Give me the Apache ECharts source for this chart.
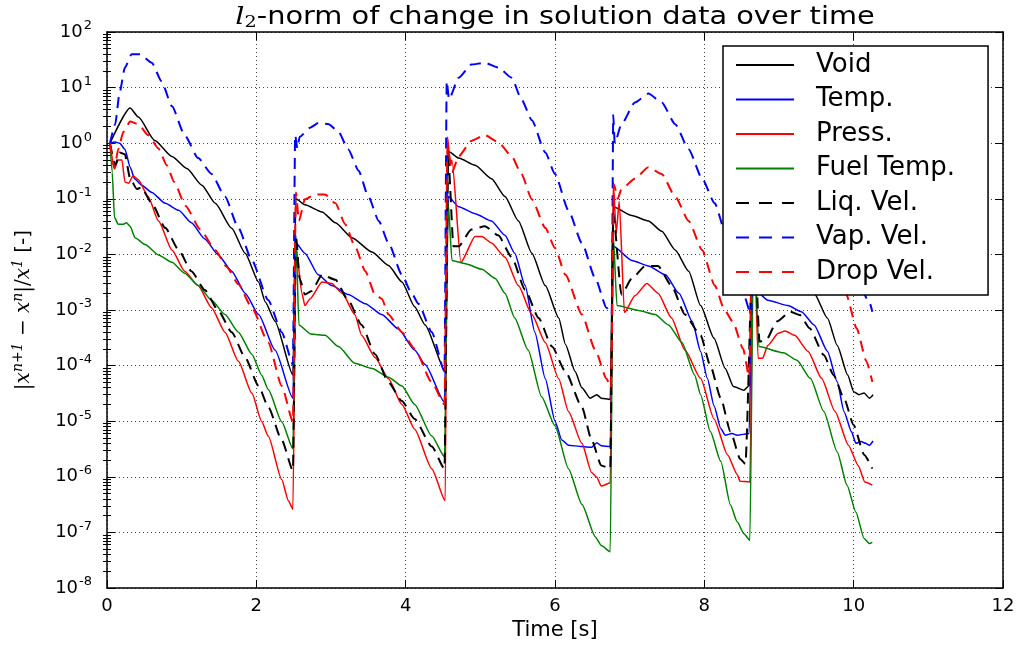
<!DOCTYPE html>
<html>
<head>
<meta charset="utf-8">
<script src="https://cdn.jsdelivr.net/npm/echarts@6/dist/echarts.min.js"></script>
<style>
  html, body { margin: 0; padding: 0; background: #fff; }
  #chart { width: 1019px; height: 647px; }
</style>
</head>
<body>
<div id="chart"></div>
<script>
// Axis ticks
const xTicks = [0, 2, 4, 6, 8, 10, 12];
const yDecades = [-8, -7, -6, -5, -4, -3, -2, -1, 0, 1, 2];

const seriesNames = ['Void', 'Temp.', 'Press.', 'Fuel Temp.', 'Liq. Vel.', 'Vap. Vel.', 'Drop Vel.'];

// [time (s), relative change] samples for each unknown
const voidData = [
  [0.04, 1.0], [0.31, 4.3], [0.42, 2.95], [0.64, 1.12], [0.87, 0.575], [1.07, 0.35], [1.27, 0.176], [1.45, 0.083],
  [1.67, 0.0295], [1.85, 0.0105], [2.03, 3.2e-3], [2.12, 1.4e-3], [2.25, 6.3e-4], [2.49, 6.8e-5],
  [2.53, 0.1], [2.65, 0.078], [2.88, 0.058], [3.06, 0.037], [3.28, 0.020], [3.55, 0.011], [3.77, 6.3e-3],
  [3.95, 3.2e-3], [4.12, 1.15e-3], [4.26, 5.4e-4], [4.53, 7.9e-5],
  [4.57, 0.72], [4.71, 0.54], [4.93, 0.40], [5.15, 0.23], [5.33, 0.11], [5.51, 0.040], [5.69, 0.0105],
  [5.87, 2.75e-3], [6.05, 7.2e-4], [6.14, 2.4e-4], [6.27, 7.8e-5], [6.36, 4.0e-5], [6.47, 2.6e-5],
  [6.56, 3.0e-5], [6.62, 2.6e-5], [6.74, 2.45e-5],
  [6.78, 0.072], [7.03, 0.050], [7.25, 0.040], [7.43, 0.026], [7.61, 0.012], [7.79, 5.0e-3], [7.95, 1.2e-3],
  [8.13, 3.1e-4], [8.28, 8.9e-5], [8.39, 4.2e-5], [8.53, 3.6e-5], [8.61, 4.5e-5],
  [8.66, 0.035], [8.9, 0.02], [9.1, 0.011], [9.3, 5.0e-3], [9.47, 2.0e-3], [9.65, 7.1e-4], [9.78, 2.3e-4],
  [9.92, 6.8e-5], [10.0, 3.4e-5], [10.07, 3.0e-5], [10.14, 3.2e-5], [10.21, 2.6e-5], [10.26, 3.0e-5]
];

const tempData = [
  [0.04, 1.0], [0.11, 1.05], [0.17, 1.0], [0.24, 0.78], [0.31, 0.37], [0.37, 0.23], [0.46, 0.178], [0.6, 0.13],
  [0.78, 0.083], [0.96, 0.062], [1.13, 0.037], [1.31, 0.019], [1.49, 9.8e-3], [1.67, 5.0e-3], [1.85, 2.0e-3],
  [2.03, 8.3e-4], [2.25, 1.9e-4], [2.49, 2.6e-5],
  [2.53, 0.016], [2.65, 0.0105], [2.83, 4.3e-3], [3.01, 2.75e-3], [3.23, 1.9e-3], [3.46, 1.3e-3], [3.68, 8.3e-4],
  [3.9, 4.6e-4], [4.12, 1.9e-4], [4.26, 1.05e-4], [4.52, 2.2e-5],
  [4.57, 0.11], [4.71, 0.072], [4.93, 0.054], [5.15, 0.040], [5.33, 0.022], [5.46, 0.0105], [5.6, 2.75e-3],
  [5.73, 4.0e-4], [5.87, 5.8e-5], [6.0, 1.0e-5], [6.09, 4.6e-6], [6.18, 3.7e-6], [6.36, 3.5e-6], [6.49, 3.4e-6],
  [6.56, 4.1e-6], [6.62, 3.6e-6], [6.74, 3.5e-6],
  [6.78, 0.014], [7.03, 7.8e-3], [7.25, 6.2e-3], [7.48, 4.3e-3], [7.66, 2.0e-3], [7.84, 6.2e-4], [7.95, 1.8e-4],
  [8.04, 5.9e-5], [8.13, 1.9e-5], [8.22, 7.4e-6], [8.28, 5.6e-6], [8.37, 6.0e-6], [8.44, 5.6e-6], [8.6, 6.0e-6],
  [8.65, 0.012], [8.71, 2.1e-3], [8.85, 1.5e-3], [9.12, 1.2e-3], [9.3, 9.3e-4], [9.47, 5.4e-4], [9.65, 1.8e-4],
  [9.78, 5.1e-5], [9.87, 1.5e-5], [9.97, 6.5e-6], [10.03, 4.0e-6], [10.1, 4.3e-6], [10.16, 4.0e-6],
  [10.21, 3.7e-6], [10.26, 4.4e-6]
];

const pressData = [
  [0.04, 1.0], [0.1, 0.35], [0.15, 0.5], [0.2, 0.5], [0.24, 0.2], [0.29, 0.19], [0.35, 0.26], [0.42, 0.22],
  [0.55, 0.11], [0.69, 0.040], [0.87, 0.012], [1.04, 5.0e-3], [1.22, 2.75e-3], [1.4, 1.1e-3], [1.58, 4.0e-4],
  [1.76, 1.2e-4], [1.94, 3.2e-5], [2.07, 1.0e-5], [2.16, 5.4e-6], [2.34, 8.9e-7], [2.43, 3.7e-7], [2.49, 2.6e-7],
  [2.53, 0.014], [2.61, 2.0e-3], [2.65, 1.2e-3], [2.72, 1.6e-3], [2.88, 3.2e-3], [3.01, 3.0e-3], [3.15, 2.0e-3],
  [3.32, 8.3e-4], [3.41, 3.5e-4], [3.59, 1.4e-4], [3.77, 5.8e-5], [3.95, 2.0e-5], [4.12, 7.2e-6], [4.35, 1.4e-6],
  [4.53, 3.7e-7],
  [4.56, 1.3], [4.6, 0.4], [4.62, 0.5], [4.74, 7.2e-3], [4.93, 0.021], [5.02, 0.021], [5.15, 0.016],
  [5.33, 8.9e-3], [5.51, 2.75e-3], [5.69, 8.3e-4], [5.87, 2.6e-4], [6.05, 5.8e-5], [6.18, 1.5e-5], [6.36, 4.0e-6],
  [6.49, 1.2e-6], [6.56, 9.8e-7], [6.62, 6.8e-7], [6.74, 7.8e-7],
  [6.78, 0.2], [6.82, 0.024], [6.86, 0.09], [6.93, 9.0e-4], [7.07, 1.8e-3], [7.23, 3.0e-3], [7.38, 2.0e-3],
  [7.56, 7.2e-4], [7.74, 1.9e-4], [7.95, 5.9e-5], [8.13, 1.1e-5], [8.31, 2.5e-6], [8.44, 1.1e-6], [8.48, 8.3e-7],
  [8.61, 8.1e-7],
  [8.66, 0.05], [8.72, 1.35e-4], [8.78, 1.35e-4], [8.85, 2.3e-4], [8.99, 3.8e-4], [9.08, 4.2e-4], [9.21, 3.5e-4],
  [9.39, 1.8e-4], [9.57, 5.9e-5], [9.75, 1.5e-5], [9.93, 3.7e-6], [10.06, 1.6e-6], [10.15, 8.1e-7], [10.25, 7.1e-7]
];

const fuelData = [
  [0.04, 1.0], [0.07, 0.3], [0.1, 0.046], [0.15, 0.035], [0.22, 0.035], [0.26, 0.037], [0.31, 0.032],
  [0.375, 0.020], [0.51, 0.015], [0.69, 9.8e-3], [0.87, 7.2e-3], [1.04, 4.6e-3], [1.22, 2.75e-3], [1.4, 1.5e-3],
  [1.58, 8.3e-4], [1.76, 4.0e-4], [1.94, 1.6e-4], [2.07, 6.8e-5], [2.16, 3.7e-5], [2.34, 9.8e-6], [2.49, 3.2e-6],
  [2.53, 0.022], [2.57, 5.4e-4], [2.73, 3.7e-4], [2.92, 3.5e-4], [3.1, 2.2e-4], [3.32, 1.1e-4], [3.55, 8.9e-5],
  [3.77, 6.2e-5], [3.95, 4.3e-5], [4.12, 2.0e-5], [4.35, 5.4e-6], [4.52, 2.3e-6],
  [4.57, 0.083], [4.62, 7.8e-3], [4.8, 6.8e-3], [5.02, 5.4e-3], [5.2, 3.7e-3], [5.33, 2.0e-3], [5.46, 7.2e-4],
  [5.64, 1.9e-4], [5.82, 2.75e-5], [6.0, 8.3e-6], [6.18, 1.4e-6], [6.36, 3.2e-7], [6.54, 8.3e-8], [6.62, 5.8e-8],
  [6.74, 4.5e-8],
  [6.78, 0.022], [6.83, 1.2e-3], [7.12, 9.8e-4], [7.34, 8.3e-4], [7.52, 5.4e-4], [7.7, 2.6e-4], [7.87, 6.8e-5],
  [7.95, 3.0e-5], [8.08, 6.5e-6], [8.22, 1.9e-6], [8.35, 3.1e-7], [8.44, 1.55e-7], [8.53, 9.5e-8], [8.61, 7.2e-8],
  [8.66, 0.03], [8.73, 2.2e-4], [9.06, 1.7e-4], [9.24, 1.25e-4], [9.42, 5.9e-5], [9.6, 1.5e-5], [9.78, 2.8e-6],
  [9.91, 7.1e-7], [10.03, 2.3e-7], [10.14, 7.8e-8], [10.21, 6.3e-8], [10.25, 6.6e-8]
];

const liqData = [
  [0.04, 1.0], [0.11, 0.4], [0.17, 0.68], [0.24, 0.63], [0.31, 0.23], [0.4, 0.15], [0.46, 0.16], [0.6, 0.083],
  [0.78, 0.030], [0.96, 0.012], [1.13, 5.0e-3], [1.31, 2.3e-3], [1.49, 9.8e-4], [1.67, 4.0e-4], [1.85, 1.4e-4],
  [2.03, 4.3e-5], [2.16, 1.8e-5], [2.34, 4.6e-6], [2.49, 1.3e-6],
  [2.53, 0.022], [2.58, 3.7e-3], [2.65, 1.9e-3], [2.74, 2.2e-3], [2.88, 4.3e-3], [3.06, 3.5e-3], [3.23, 1.5e-3],
  [3.41, 5.4e-4], [3.59, 1.6e-4], [3.77, 5.0e-5], [3.95, 2.3e-5], [4.12, 1.1e-5], [4.35, 3.5e-6], [4.52, 1.4e-6],
  [4.57, 0.58], [4.64, 0.014], [4.71, 0.014], [4.88, 0.028], [5.06, 0.032], [5.24, 0.022], [5.42, 8.9e-3],
  [5.6, 2.3e-3], [5.78, 7.2e-4], [5.96, 2.2e-4], [6.14, 7.8e-5], [6.36, 1.8e-5], [6.49, 4.6e-6], [6.62, 1.6e-6],
  [6.74, 1.4e-6],
  [6.78, 0.054], [6.89, 1.9e-3], [7.03, 3.7e-3], [7.21, 6.2e-3], [7.38, 6.2e-3], [7.56, 2.75e-3], [7.74, 8.3e-4],
  [7.95, 3.5e-4], [8.08, 1.0e-4], [8.22, 2.6e-5], [8.35, 6.5e-6], [8.48, 2.1e-6], [8.55, 1.7e-6],
  [8.66, 0.05], [8.74, 2.7e-4], [8.83, 2.9e-4], [8.97, 6.2e-4], [9.15, 9.3e-4], [9.28, 8.1e-4], [9.41, 4.7e-4],
  [9.6, 1.55e-4], [9.73, 6.8e-5], [9.87, 2.6e-5], [10.0, 8.5e-6], [10.14, 2.5e-6], [10.25, 1.4e-6]
];

const vapData = [
  [0.04, 1.0], [0.11, 2.2], [0.17, 8.3], [0.24, 23], [0.33, 40], [0.44, 40], [0.6, 28], [0.73, 13], [0.87, 4.6],
  [1.04, 1.4], [1.22, 0.54], [1.4, 0.28], [1.58, 0.11], [1.76, 0.030], [1.94, 7.8e-3], [2.16, 1.5e-3],
  [2.34, 4.0e-4], [2.49, 1.05e-4],
  [2.52, 1.4], [2.55, 0.8], [2.58, 1.3], [2.72, 1.9], [2.83, 2.3], [2.97, 2.2], [3.1, 1.6], [3.23, 0.78],
  [3.37, 0.32], [3.5, 0.11], [3.64, 0.040], [3.77, 0.016], [3.95, 4.3e-3], [4.08, 2.0e-3], [4.17, 1.3e-3],
  [4.35, 4.0e-4], [4.52, 7.8e-5],
  [4.55, 13], [4.58, 6.2], [4.71, 15], [4.88, 26], [5.06, 28], [5.24, 23], [5.42, 15], [5.55, 6.2], [5.69, 2.6],
  [5.87, 0.68], [6.0, 0.28], [6.18, 0.062], [6.36, 0.016], [6.54, 3.7e-3], [6.69, 1.1e-3], [6.76, 8.3e-4],
  [6.78, 3.2], [6.8, 1.0], [6.89, 2.2], [7.07, 5.4], [7.25, 7.8], [7.43, 5.4], [7.61, 2.2], [7.79, 0.78],
  [7.97, 0.23], [8.14, 0.083], [8.28, 0.025], [8.41, 8.9e-3], [8.52, 2.0e-3], [8.63, 8.1e-4],
  [8.66, 1.0], [8.7, 0.5], [9.0, 1.5], [9.3, 1.5], [9.6, 0.2], [9.9, 0.012], [10.21, 1.4e-3], [10.25, 9.3e-4]
];

const dropData = [
  [0.04, 1.0], [0.1, 0.35], [0.15, 0.78], [0.22, 1.6], [0.31, 2.45], [0.42, 2.2], [0.55, 1.4], [0.69, 0.8],
  [0.8, 0.4], [0.9, 0.2], [1.05, 0.075], [1.25, 0.028], [1.45, 0.012], [1.6, 6.0e-3], [1.76, 2.9e-3],
  [1.94, 1.1e-3], [2.16, 2.6e-4], [2.34, 4.3e-5], [2.49, 9.8e-6],
  [2.53, 0.13], [2.57, 0.04], [2.65, 0.098], [2.79, 0.12], [2.92, 0.12], [3.06, 0.083], [3.19, 0.035],
  [3.32, 0.014], [3.46, 5.0e-3], [3.59, 1.9e-3], [3.68, 1.6e-3], [3.77, 8.3e-4], [3.95, 4.0e-4], [4.12, 2.0e-4],
  [4.35, 5.0e-5], [4.52, 2.0e-5],
  [4.56, 0.9], [4.62, 0.3], [4.71, 0.58], [4.88, 1.1], [5.06, 1.4], [5.24, 1.05], [5.42, 0.58], [5.55, 0.28],
  [5.69, 0.098], [5.87, 0.030], [6.0, 0.013], [6.14, 4.3e-3], [6.36, 8.3e-4], [6.54, 1.9e-4], [6.69, 5.8e-5],
  [6.75, 4.0e-5],
  [6.79, 0.18], [6.84, 0.1], [6.89, 0.15], [7.07, 0.23], [7.25, 0.37], [7.43, 0.28], [7.61, 0.11], [7.79, 0.040],
  [7.97, 0.012], [8.14, 2.75e-3], [8.27, 1.0e-3], [8.38, 6.2e-4], [8.52, 2.0e-4], [8.6, 6.3e-5],
  [8.65, 0.1], [8.75, 0.05], [9.1, 0.12], [9.35, 0.06], [9.6, 0.015], [9.8, 4.0e-3], [9.9, 1.9e-3],
  [10.04, 4.7e-4], [10.17, 1.2e-4], [10.25, 5.1e-5]
];

const seriesData = [voidData, tempData, pressData, fuelData, liqData, vapData, dropData];
const seriesColors = ['#000000', '#0000ff', '#ff0000', '#008000', '#000000', '#0000ff', '#ff0000'];
const seriesDashed = [false, false, false, false, true, true, true];

// major ticks at every decade, minor ticks at 2..9 within each decade
const majorTickValues = yDecades.map(function (e) { return Math.pow(10, e); });
const minorTickValues = [];
yDecades.slice(0, -1).forEach(function (e) {
  for (let m = 2; m <= 9; m++) minorTickValues.push(m * Math.pow(10, e));
});

const AXIS_COLOR = '#000';
const FONT = 'DejaVu Sans';
const GRID_LINE = { show: true, lineStyle: { color: '#444', width: 1, type: [1, 3] } };

function frameAxisY(position, withLabels) {
  return {
    type: 'log', logBase: 10, min: 1e-8, max: 100, position: position,
    axisLine: { show: true, onZero: false, lineStyle: { color: AXIS_COLOR, width: 1.5 } },
    axisTick: { show: true, inside: true, length: 8, customValues: majorTickValues,
      lineStyle: { color: AXIS_COLOR, width: 1 } },
    axisLabel: withLabels ? {
      show: true, margin: 15, customValues: majorTickValues,
      formatter: function (v) {
        const e = Math.round(Math.log10(v));
        return '{b|10}{e|' + e + '}';
      },
      rich: {
        b: { fontFamily: FONT, fontSize: 18, color: '#000' },
        e: { fontFamily: FONT, fontSize: 13, color: '#000', padding: [0, 0, 12, 1] }
      }
    } : { show: false },
    splitLine: withLabels ? GRID_LINE : { show: false }
  };
}

function minorAxisY(position) {
  return {
    type: 'log', logBase: 10, min: 1e-8, max: 100, position: position,
    axisLine: { show: false },
    axisTick: { show: true, inside: true, length: 4, customValues: minorTickValues,
      lineStyle: { color: AXIS_COLOR, width: 1 } },
    axisLabel: { show: false },
    splitLine: { show: false }
  };
}

const leftAxis = frameAxisY('left', true);
leftAxis.name = '{m||}{i|x}{p|n+1}{m| − }{i|x}{p|n}{m||/}{i|x}{p|1}{s| [-]}';
leftAxis.nameLocation = 'middle';
leftAxis.nameRotate = 90;
leftAxis.nameGap = 70;
leftAxis.nameTextStyle = {
  color: '#000',
  rich: {
    m: { fontFamily: 'DejaVu Serif', fontSize: 20, color: '#000' },
    i: { fontFamily: 'DejaVu Serif', fontStyle: 'italic', fontSize: 20, color: '#000' },
    p: { fontFamily: 'DejaVu Serif', fontStyle: 'italic', fontSize: 14, color: '#000', padding: [0, 0, 12, 0] },
    s: { fontFamily: FONT, fontSize: 20, color: '#000' }
  }
};

const option = {
  animation: false,
  backgroundColor: '#ffffff',
  textStyle: { fontFamily: FONT },
  grid: { left: 107, right: 16, top: 32, bottom: 59, containLabel: false, outerBoundsMode: 'none' },
  graphic: [{
    type: 'text', x: 555, y: 18, scaleX: 1.2, z: 10,
    style: {
      text: '{l|l}{s|2}{r|-norm of change in solution data over time}',
      align: 'center', verticalAlign: 'middle', fill: '#000',
      rich: {
        l: { fontFamily: 'DejaVu Serif', fontStyle: 'italic', fontSize: 24, fill: '#000' },
        s: { fontFamily: 'DejaVu Serif', fontSize: 16, fill: '#000', padding: [10, 0, 0, 0] },
        r: { fontFamily: FONT, fontSize: 24, fill: '#000' }
      }
    }
  }],
  legend: {
    orient: 'vertical', left: 723, top: 46,
    padding: [5, 33, 9, 12], itemGap: 6.5, itemWidth: 58, itemHeight: 14,
    backgroundColor: '#ffffff', borderColor: '#000', borderWidth: 1.5, borderRadius: 0,
    selectedMode: false,
    itemStyle: { opacity: 0 },
    textStyle: { fontFamily: FONT, fontSize: 26, color: '#000', lineHeight: 28, padding: [0, 0, 0, 17] },
    data: seriesNames.map(function (n, i) {
      return seriesDashed[i] ? { name: n, lineStyle: { type: [13, 10] } } : { name: n };
    })
  },
  xAxis: [
    {
      type: 'value', min: 0, max: 12, interval: 2, position: 'bottom',
      axisLine: { show: true, onZero: false, lineStyle: { color: AXIS_COLOR, width: 1.5 } },
      axisTick: { show: true, inside: true, length: 8, customValues: xTicks, lineStyle: { color: AXIS_COLOR, width: 1 } },
      axisLabel: { show: true, margin: 9, fontFamily: FONT, fontSize: 18, color: '#000', customValues: xTicks },
      splitLine: GRID_LINE,
      name: 'Time [s]', nameLocation: 'middle', nameGap: 31,
      nameTextStyle: { fontFamily: FONT, fontSize: 21, color: '#000' }
    },
    {
      type: 'value', min: 0, max: 12, interval: 2, position: 'top',
      axisLine: { show: true, onZero: false, lineStyle: { color: AXIS_COLOR, width: 1.5 } },
      axisTick: { show: true, inside: true, length: 8, customValues: xTicks, lineStyle: { color: AXIS_COLOR, width: 1 } },
      axisLabel: { show: false },
      splitLine: { show: false }
    }
  ],
  yAxis: [leftAxis, minorAxisY('left'), frameAxisY('right', false), minorAxisY('right')],
  series: seriesNames.map(function (n, i) {
    return {
      name: n, type: 'line', xAxisIndex: 0, yAxisIndex: 0,
      data: seriesData[i],
      symbol: 'none', showSymbol: false,
      smooth: 0.2, smoothMonotone: 'x',
      lineStyle: { color: seriesColors[i], width: seriesDashed[i] ? 2 : 1.5, type: seriesDashed[i] ? [11, 7] : 'solid' },
      itemStyle: { color: seriesColors[i] },
      emphasis: { disabled: true },
      z: 2 + i * 0.01
    };
  })
};

const chart = echarts.init(document.getElementById('chart'), null, { renderer: 'canvas' });
chart.setOption(option);
</script>
</body>
</html>
